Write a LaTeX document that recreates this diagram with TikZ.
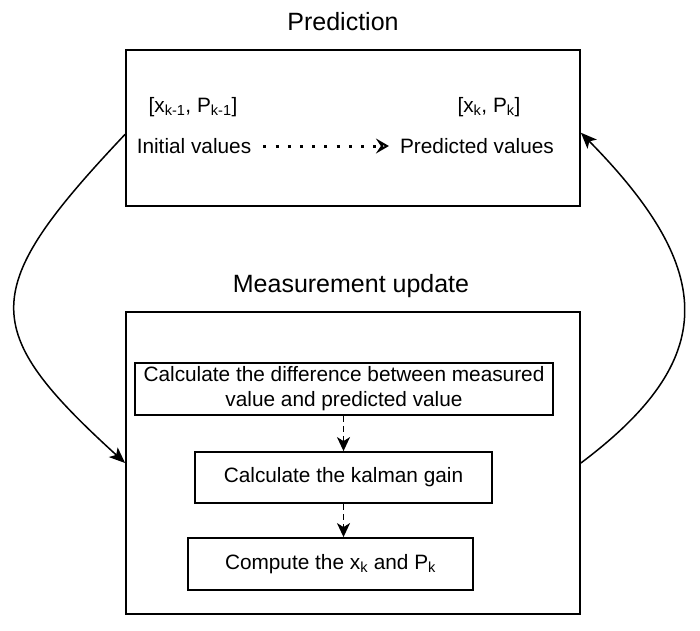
\documentclass[tikz,border=0pt]{standalone}
\usepackage{fontspec}
\setmainfont{Liberation Sans}
\usetikzlibrary{arrows.meta,calc}
\begin{document}
\begin{tikzpicture}[x=1pt,y=-1pt,
  frame/.style={draw,line width=1.8pt,inner sep=0pt},
  stepbox/.style={draw,line width=1.8pt,inner sep=0pt,font=\fontsize{20.8}{25}\selectfont,align=center},
  lbl/.style={font=\fontsize{20.8}{25}\selectfont,inner sep=0pt},
  ttl/.style={font=\fontsize{25}{30}\selectfont,inner sep=0pt},
  dasharrow/.style={line width=1.6pt,dash pattern=on 6pt off 4pt,-{Stealth[length=14pt,width=13pt,inset=4pt]}},
  curvearrow/.style={line width=1.5pt,-{Stealth[length=16pt,width=13pt,inset=4pt]}},
  dotarrow/.style={line width=3pt,dash pattern=on 3pt off 9.2pt,-{Stealth[open,length=13pt,width=15pt,inset=5pt,line width=2pt]}}
]
\useasboundingbox (0,0) rectangle (700,630);
\fill[white] (0,0) rectangle (700,630);

% titles
\node[ttl] (tpred) at (343,22) {Prediction};
\node[ttl] (tmeas) at (351,286) {Measurement update};

% outer frames
\node[frame,minimum width=454pt,minimum height=156pt] (pbox) at (353,128) {};
\node[frame,minimum width=454pt,minimum height=302pt] (mbox) at (353,463) {};

% prediction labels
\node[lbl] (xprev) at (193,107) {[x\textsubscript{k-1}, P\textsubscript{k-1}]};
\node[lbl] (init) at (194,146) {Initial values};
\node[lbl] (xcur) at (489,107) {[x\textsubscript{k}, P\textsubscript{k}]};
\node[lbl] (pred) at (477,146) {Predicted values};
\draw[dotarrow,shorten <=12pt,shorten >=11pt] (init.east) -- (pred.west);

% measurement steps
\node[stepbox,minimum width=418pt,minimum height=52pt] (s1) at (344,389)
  {Calculate the difference between measured\\value and predicted value};
\node[stepbox,minimum width=297pt,minimum height=51pt] (s2) at (343.5,477.5)
  {Calculate the kalman gain};
\node[stepbox,minimum width=285pt,minimum height=52pt] (s3) at (330.5,564)
  {Compute the x\textsubscript{k} and P\textsubscript{k}};
\draw[dasharrow] (s1.south -| s2.north) -- (s2.north);
\draw[dasharrow] (s2.south) -- (s2.south |- s3.north);

% loop curves
\coordinate (lstart) at ($(pbox.north west)!0.54!(pbox.south west)$);
\coordinate (rend) at ($(pbox.north east)!0.53!(pbox.south east)$);
\draw[curvearrow] (lstart) .. controls (-22,290) and (-22,329) .. (mbox.west);
\draw[curvearrow] (mbox.east) .. controls (718,360) and (718,272) .. (rend);
\end{tikzpicture}
\end{document}
